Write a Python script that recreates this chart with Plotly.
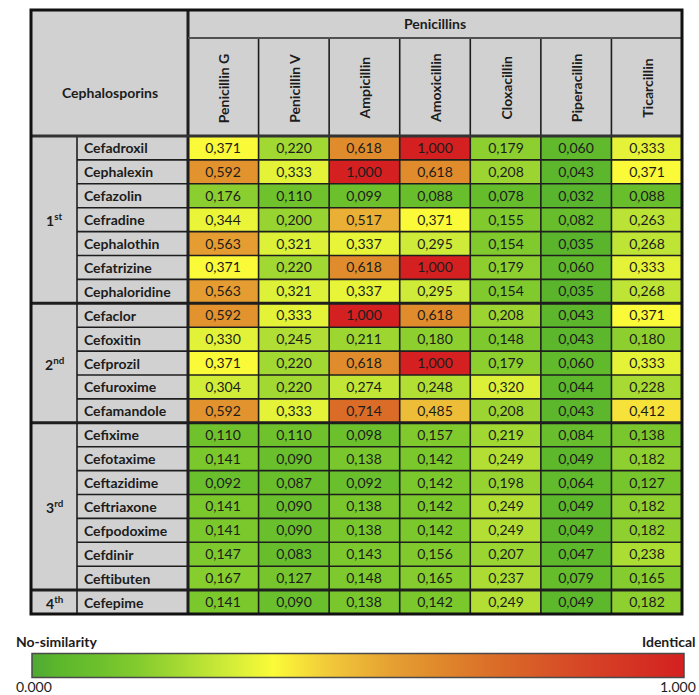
import plotly.graph_objects as go

# ---- data -------------------------------------------------------------
penicillins = ["Penicillin G", "Penicillin V", "Ampicillin", "Amoxicillin",
               "Cloxacillin", "Piperacillin", "Ticarcillin"]

cephalosporins = ["Cefadroxil", "Cephalexin", "Cefazolin", "Cefradine",
                  "Cephalothin", "Cefatrizine", "Cephaloridine",
                  "Cefaclor", "Cefoxitin", "Cefprozil", "Cefuroxime",
                  "Cefamandole",
                  "Cefixime", "Cefotaxime", "Ceftazidime", "Ceftriaxone",
                  "Cefpodoxime", "Cefdinir", "Ceftibuten",
                  "Cefepime"]

generations = ["1<sup>st</sup>", "2<sup>nd</sup>", "3<sup>rd</sup>", "4<sup>th</sup>"]
generation_sizes = [7, 5, 7, 1]

similarity = [
    [0.371, 0.220, 0.618, 1.000, 0.179, 0.060, 0.333],
    [0.592, 0.333, 1.000, 0.618, 0.208, 0.043, 0.371],
    [0.176, 0.110, 0.099, 0.088, 0.078, 0.032, 0.088],
    [0.344, 0.200, 0.517, 0.371, 0.155, 0.082, 0.263],
    [0.563, 0.321, 0.337, 0.295, 0.154, 0.035, 0.268],
    [0.371, 0.220, 0.618, 1.000, 0.179, 0.060, 0.333],
    [0.563, 0.321, 0.337, 0.295, 0.154, 0.035, 0.268],
    [0.592, 0.333, 1.000, 0.618, 0.208, 0.043, 0.371],
    [0.330, 0.245, 0.211, 0.180, 0.148, 0.043, 0.180],
    [0.371, 0.220, 0.618, 1.000, 0.179, 0.060, 0.333],
    [0.304, 0.220, 0.274, 0.248, 0.320, 0.044, 0.228],
    [0.592, 0.333, 0.714, 0.485, 0.208, 0.043, 0.412],
    [0.110, 0.110, 0.098, 0.157, 0.219, 0.084, 0.138],
    [0.141, 0.090, 0.138, 0.142, 0.249, 0.049, 0.182],
    [0.092, 0.087, 0.092, 0.142, 0.198, 0.064, 0.127],
    [0.141, 0.090, 0.138, 0.142, 0.249, 0.049, 0.182],
    [0.141, 0.090, 0.138, 0.142, 0.249, 0.049, 0.182],
    [0.147, 0.083, 0.143, 0.156, 0.207, 0.047, 0.238],
    [0.167, 0.127, 0.148, 0.165, 0.237, 0.079, 0.165],
    [0.141, 0.090, 0.138, 0.142, 0.249, 0.049, 0.182],
]

scale_min_label = "0.000"
scale_max_label = "1.000"

# ---- layout geometry (pixels) ----------------------------------------
W, H = 699, 695
X_LEFT, X_GROUP, X_NAME, X_RIGHT = 31, 77, 188, 682
Y_TOP, Y_SUB, Y_HEAD, Y_BOTTOM = 10, 38, 136, 614
N_ROWS, N_COLS = len(cephalosporins), len(penicillins)
ROW_H = (Y_BOTTOM - Y_HEAD) / N_ROWS
COL_W = (X_RIGHT - X_NAME) / N_COLS

FONT = "Lato, 'Open Sans', sans-serif"
INK = "#1c1c1c"
HEADER_GRAY = "#d1d1d1"


def fx(x):
    return x / W


def fy(y):
    return 1 - y / H


colorscale = [
    [0.00, "#4fa834"], [0.04, "#5cb72c"], [0.10, "#6cc02c"],
    [0.16, "#82cb2e"], [0.22, "#a2d832"], [0.30, "#d0ec38"],
    [0.37, "#fbfb38"], [0.45, "#f2cc3a"], [0.55, "#e6a032"],
    [0.62, "#e08a2c"], [0.72, "#da6a28"], [0.85, "#d64426"],
    [1.00, "#d42020"],
]

cell_text = [[f"{v:.3f}".replace(".", ",") for v in row] for row in similarity]

fig = go.Figure()
fig.add_trace(go.Heatmap(
    z=similarity, x=penicillins, y=cephalosporins,
    zmin=0, zmax=1, colorscale=colorscale,
    text=cell_text, texttemplate="%{text}",
    textfont=dict(family=FONT, size=14, color=INK),
    hoverinfo="skip",
    colorbar=dict(
        orientation="h", thickness=24, thicknessmode="pixels",
        len=652, lenmode="pixels",
        x=fx(32), xanchor="left", y=fy(679), yanchor="bottom",
        xpad=0, ypad=0,
        outlinecolor="#4a4a4a", outlinewidth=1.5,
        showticklabels=False, ticks="",
    ),
))

shapes = []
# gray header and row-label backgrounds
shapes.append(dict(type="rect", xref="paper", yref="paper", layer="below",
                   x0=fx(X_LEFT), x1=fx(X_RIGHT), y0=fy(Y_HEAD), y1=fy(Y_TOP),
                   fillcolor=HEADER_GRAY, line_width=0))
shapes.append(dict(type="rect", xref="paper", yref="paper", layer="below",
                   x0=fx(X_LEFT), x1=fx(X_NAME), y0=fy(Y_BOTTOM), y1=fy(Y_HEAD),
                   fillcolor=HEADER_GRAY, line_width=0))


def hline(x0, x1, y, w, c="#1e1e1e"):
    shapes.append(dict(type="line", xref="paper", yref="paper",
                       x0=fx(x0), x1=fx(x1), y0=fy(y), y1=fy(y),
                       line=dict(color=c, width=w)))


def vline(x, y0, y1, w, c="#1e1e1e"):
    shapes.append(dict(type="line", xref="paper", yref="paper",
                       x0=fx(x), x1=fx(x), y0=fy(y0), y1=fy(y1),
                       line=dict(color=c, width=w)))


# row separators
group_edges = []
acc = 0
for n in generation_sizes:
    acc += n
    group_edges.append(acc)
for i in range(1, N_ROWS):
    y = Y_HEAD + i * ROW_H
    if i in group_edges:
        hline(X_LEFT, X_RIGHT, y, 3)
    else:
        hline(X_GROUP, X_RIGHT, y, 1.6)

# column separators in header and body
for j in range(1, N_COLS):
    x = X_NAME + j * COL_W
    vline(x, Y_SUB, Y_BOTTOM, 1.6)
vline(X_GROUP, Y_HEAD, Y_BOTTOM, 1.6)
vline(X_NAME, Y_TOP, Y_BOTTOM, 3)
hline(X_NAME, X_RIGHT, Y_SUB, 2, "#505050")
hline(X_LEFT, X_RIGHT, Y_HEAD, 3, "#333333")
# outer frame
shapes.append(dict(type="rect", xref="paper", yref="paper",
                   x0=fx(X_LEFT), x1=fx(X_RIGHT), y0=fy(Y_BOTTOM), y1=fy(Y_TOP),
                   line=dict(color="#111111", width=3)))

ann = []
bold = dict(family=FONT, size=14, color=INK)


def label(text, x, y, xanchor="center", **kw):
    ann.append(dict(text=text, x=fx(x), y=fy(y), xref="paper", yref="paper",
                    xanchor=xanchor, yanchor="middle", showarrow=False,
                    font=kw.pop("font", bold), **kw))


label("<b>Cephalosporins</b>", (X_LEFT + X_NAME) / 2, 92)
label("<b>Penicillins</b>", (X_NAME + X_RIGHT) / 2, (Y_TOP + Y_SUB) / 2)
for j, name in enumerate(penicillins):
    label(f"<b>{name}</b>", X_NAME + (j + 0.5) * COL_W, (Y_SUB + Y_HEAD) / 2 + 1,
          textangle=-90)
for i, name in enumerate(cephalosporins):
    label(f"<b>{name}</b>", X_GROUP + 5, Y_HEAD + (i + 0.5) * ROW_H,
          xanchor="left")
start = 0
for g, n in zip(generations, generation_sizes):
    yc = Y_HEAD + (start + n / 2) * ROW_H
    label(f"<b>{g}</b>", (X_LEFT + X_GROUP) / 2, yc)
    start += n

# scale captions
label("<b>No-similarity</b>", 14, 641, xanchor="left")
label("<b>Identical</b>", 698, 641, xanchor="right")
plain = dict(family=FONT, size=14, color=INK)
label(scale_min_label, 14, 686, xanchor="left", font=plain)
label(scale_max_label, 698, 686, xanchor="right", font=plain)

fig.update_layout(
    width=W, height=H, margin=dict(l=0, r=0, t=0, b=0),
    paper_bgcolor="white", plot_bgcolor="white",
    shapes=shapes, annotations=ann,
    xaxis=dict(domain=[fx(X_NAME), fx(X_RIGHT)], visible=False,
               fixedrange=True),
    yaxis=dict(domain=[fy(Y_BOTTOM), fy(Y_HEAD)], visible=False,
               autorange="reversed", fixedrange=True),
)

fig.write_html("out.html")
